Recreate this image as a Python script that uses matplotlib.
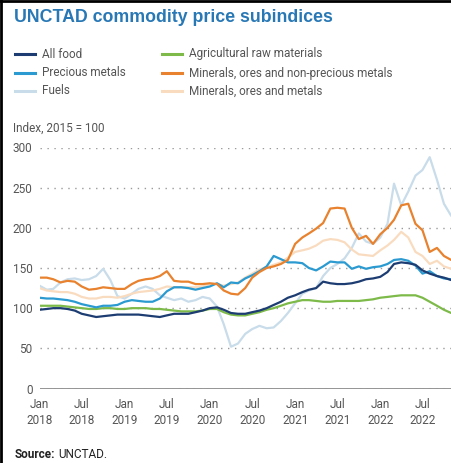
import matplotlib
matplotlib.use('Agg')
import matplotlib.pyplot as plt
import pandas as pd
from matplotlib.lines import Line2D

plt.rcParams['font.family'] = ['Roboto', 'DejaVu Sans']

months = pd.date_range('2018-01-01', periods=59, freq='MS')

all_food = [98, 99, 100, 100, 99, 97, 93, 91, 89, 90, 91, 92,
            92, 92, 92, 91, 90, 89, 91, 93, 93, 93, 95, 97,
            100, 101, 98, 94, 93, 93, 95, 97, 100, 104, 108, 113,
            116, 120, 123, 125, 133, 131, 130, 130, 131, 133, 136, 137,
            139, 145, 155, 157, 156, 154, 147, 143, 140, 138, 135]
precious = [113, 112, 112, 111, 110, 108, 105, 103, 101, 103, 103, 104,
            108, 110, 109, 108, 108, 112, 121, 126, 126, 125, 123, 125,
            127, 131, 126, 132, 131, 137, 141, 146, 152, 165, 161, 157,
            157, 156, 150, 147, 152, 158, 157, 157, 149, 152, 149, 151,
            152, 155, 160, 161, 159, 153, 143, 146, 140, 137, 136]
fuels = [128, 123, 124, 132, 136, 137, 135, 136, 140, 149, 135, 115,
         112, 118, 124, 127, 124, 116, 113, 110, 112, 108, 110, 114,
         112, 102, 80, 52, 56, 68, 74, 78, 75, 76, 84, 94,
         106, 118, 122, 125, 140, 150, 155, 162, 175, 193, 183, 180,
         188, 205, 255, 228, 245, 265, 272, 288, 260, 230, 215]
agri = [103, 103, 103, 103, 102, 101, 100, 99, 99, 100, 100, 99,
        99, 100, 100, 100, 99, 99, 98, 97, 96, 96, 96, 97,
        99, 99, 95, 92, 91, 91, 93, 95, 98, 100, 103, 106,
        108, 110, 110, 109, 108, 108, 109, 109, 109, 109, 110, 111,
        113, 114, 115, 116, 116, 116, 113, 108, 103, 98, 94]
min_nonprec = [138, 138, 136, 132, 134, 133, 127, 123, 124, 126, 125, 124,
               124, 130, 134, 136, 137, 140, 146, 134, 133, 133, 130, 130,
               131, 130, 122, 118, 117, 125, 138, 145, 150, 152, 155, 160,
               180, 188, 193, 199, 206, 224, 225, 224, 200, 186, 190, 180,
               192, 200, 210, 228, 230, 205, 197, 170, 175, 165, 160]
min_metals = [125, 122, 121, 120, 120, 118, 114, 112, 112, 114, 114, 113,
              115, 118, 120, 121, 122, 124, 127, 126, 126, 126, 126, 127,
              130, 130, 128, 130, 132, 138, 143, 148, 151, 154, 157, 163,
              170, 172, 174, 178, 184, 186, 185, 182, 173, 167, 166, 165,
              172, 178, 185, 195, 188, 170, 165, 155, 159, 152, 149]

tick_idx = [0, 6, 12, 18, 24, 30, 36, 42, 48, 54]
tick_labels = ['Jan\n2018', 'Jul\n2018', 'Jan\n2019', 'Jul\n2019', 'Jan\n2020',
               'Jul\n2020', 'Jan\n2021', 'Jul\n2021', 'Jan\n2022', 'Jul\n2022']

series = [
    ('Fuels', fuels, '#c9dcea'),
    ('Minerals, ores and metals', min_metals, '#f9dcc0'),
    ('Agricultural raw materials', agri, '#7dba4a'),
    ('Precious metals', precious, '#2b9ad0'),
    ('Minerals, ores and non-precious metals', min_nonprec, '#e8822e'),
    ('All food', all_food, '#1d3d72'),
]
colors = {name: c for name, _, c in series}

W, H = 451, 463
fig = plt.figure(figsize=(W / 100, H / 100), dpi=100)
fig.patch.set_facecolor('white')

ax = fig.add_axes([39.5 / W, (H - 388.5) / H, 1 - 39.5 / W, (388.5 - 147.5) / H])
for name, vals, c in series:
    ax.plot(months, vals, color=c, lw=1.6, solid_capstyle='round', zorder=3)

ax.set_ylim(0, 300)
ax.set_xlim(months[0], months[0] + pd.Timedelta(days=57.96 * 30.44))
ax.set_yticks([0, 50, 100, 150, 200, 250, 300])
ax.set_xticks([months[i] for i in tick_idx])
ax.set_xticklabels(tick_labels, linespacing=1.3)
ax.tick_params(axis='both', length=0, labelsize=8.5, colors='#555555')
ax.tick_params(axis='x', pad=7)
ax.tick_params(axis='y', pad=5)
for s in ax.spines.values():
    s.set_visible(False)
ax.grid(axis='y', color='#9a9a9a', linestyle=(0, (1, 4)), lw=1.0)
ax.axhline(0, color='#8c8c8c', lw=1.3, zorder=2)
ax.set_axisbelow(True)

# titles and notes
fig.text(14 / W, 1 - 17 / H, 'UNCTAD commodity price subindices', fontsize=12.8,
         fontweight='bold', color='#2878b5', va='center', family=['Liberation Sans', 'DejaVu Sans'])
fig.text(13 / W, 1 - 128 / H, 'Index, 2015 = 100', fontsize=8.5, color='#555555', va='center')
src = fig.text(15 / W, 1 - 455 / H, 'Source:', fontsize=8.5, fontweight='bold', color='#222222', va='center')

# legend drawn by hand in two columns
leg = [('All food', 15, 54), ('Precious metals', 15, 73), ('Fuels', 15, 91),
       ('Agricultural raw materials', 162, 54),
       ('Minerals, ores and non-precious metals', 162, 73),
       ('Minerals, ores and metals', 162, 91)]
for name, x, y in leg:
    fig.add_artist(Line2D([x / W, (x + 20) / W], [1 - y / H, 1 - y / H],
                          color=colors[name], lw=2.2, transform=fig.transFigure))
    fig.text((x + 27) / W, 1 - y / H, name, fontsize=8.5, color='#555555', va='center')

# frame on the left and top edges
fig.add_artist(Line2D([1 / W, 1 / W], [0, 1], color='black', lw=2, transform=fig.transFigure))
fig.add_artist(Line2D([0, 1], [1 - 1 / H, 1 - 1 / H], color='black', lw=2, transform=fig.transFigure))

fig.canvas.draw()
bb = src.get_window_extent()
fig.text((bb.x1 + 3) / W, 1 - 455 / H, 'UNCTAD.', fontsize=8.5, color='#222222', va='center')

fig.savefig('out.png', dpi=100, facecolor='white')
